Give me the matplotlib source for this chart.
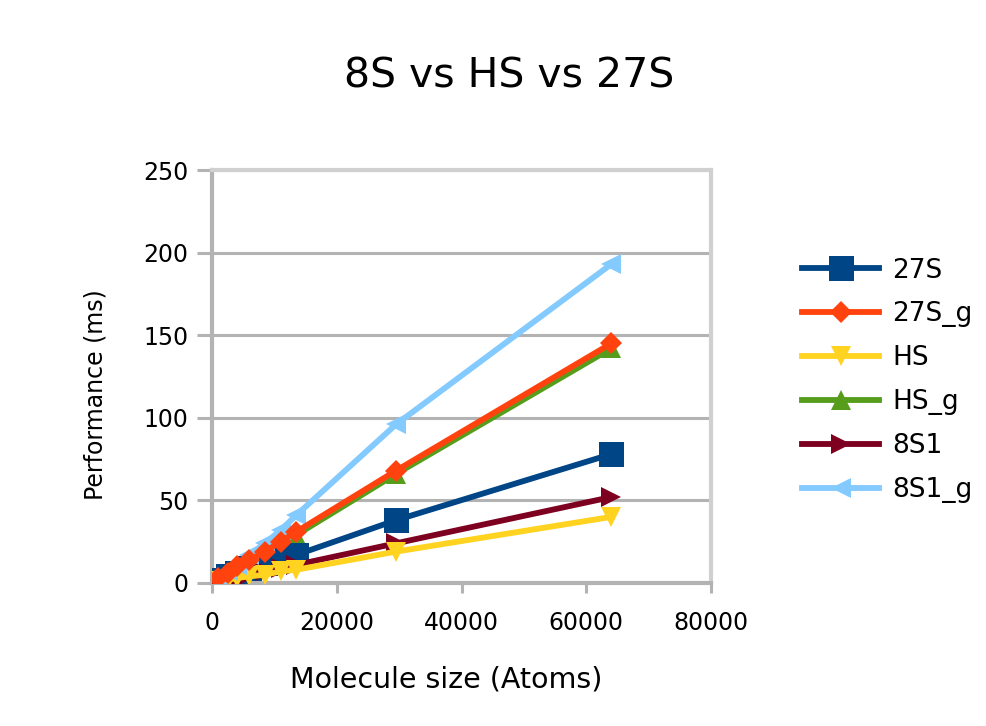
import matplotlib.pyplot as plt

plt.rcParams['font.family'] = ['DejaVu Sans']

# molecule sizes (atoms)
atoms = [1000, 2500, 4000, 6000, 8500, 11000, 13500, 29500, 64000]

# performance (ms)
s27 = [2, 4, 6, 9, 12, 14, 17, 38, 78]
s27_g = [3, 6, 10, 14, 19, 25, 31, 68, 145]
hs = [1, 2, 3, 4, 5, 7, 8, 19, 40]
hs_g = [3, 6, 9, 13, 18, 24, 29, 66, 142]
s81 = [1, 2, 3, 5, 7, 9, 11, 24, 52]
s81_g = [3, 7, 11, 17, 24, 32, 41, 96, 193]

labels = ["27S", "27S_g", "HS", "HS_g", "8S1", "8S1_g"]
colors = ["#004586", "#ff420e", "#ffd320", "#579d1c", "#7e0021", "#83caff"]
markers = ["s", "D", "v", "^", ">", "<"]
msizes = [18, 11, 15, 15, 15, 15]
series = [s27, s27_g, hs, hs_g, s81, s81_g]

fig = plt.figure(figsize=(9.87, 7.26), dpi=100)
ax = fig.add_axes([0.2148, 0.197, 0.5056, 0.5688])

# draw so that 27S_g sits over HS_g
order = [3, 0, 4, 2, 5, 1]
handles = {}
for i in order:
    h, = ax.plot(atoms, series[i], color=colors[i], marker=markers[i],
                 markersize=msizes[i], linewidth=4.2, label=labels[i],
                 markeredgewidth=0, zorder=3)
    handles[i] = h

ax.set_xlim(0, 80000)
ax.set_ylim(0, 250)
ax.set_xticks([0, 20000, 40000, 60000, 80000])
ax.set_yticks([0, 50, 100, 150, 200, 250])
ax.yaxis.grid(True, color="#b3b3b3", linewidth=2.2)
ax.set_axisbelow(True)
for sp in ax.spines.values():
    sp.set_color("#d0d0d0")
    sp.set_linewidth(3)
ax.spines["left"].set_color("#b3b3b3")
ax.spines["bottom"].set_color("#b3b3b3")
ax.tick_params(axis="y", colors="#b3b3b3", width=2.2, length=11, pad=6,
               labelcolor="black", labelsize=17)
ax.tick_params(axis="x", colors="#b3b3b3", width=2.2, length=7, pad=13,
               labelcolor="black", labelsize=17)

ax.set_xlabel("Molecule size (Atoms)", fontsize=20.5, labelpad=22, x=0.469)
ax.set_ylabel("Performance (ms)", fontsize=17, labelpad=26, y=0.455)
fig.text(0.516, 0.895, "8S vs HS vs 27S", fontsize=29.5, ha="center", va="center")

fig.legend([handles[i] for i in range(6)], labels, loc="upper left",
           bbox_to_anchor=(0.789, 0.678), frameon=False, fontsize=19,
           labelspacing=0.68, handlelength=2.9, handletextpad=0.5)

plt.savefig("out.png", dpi=100)
